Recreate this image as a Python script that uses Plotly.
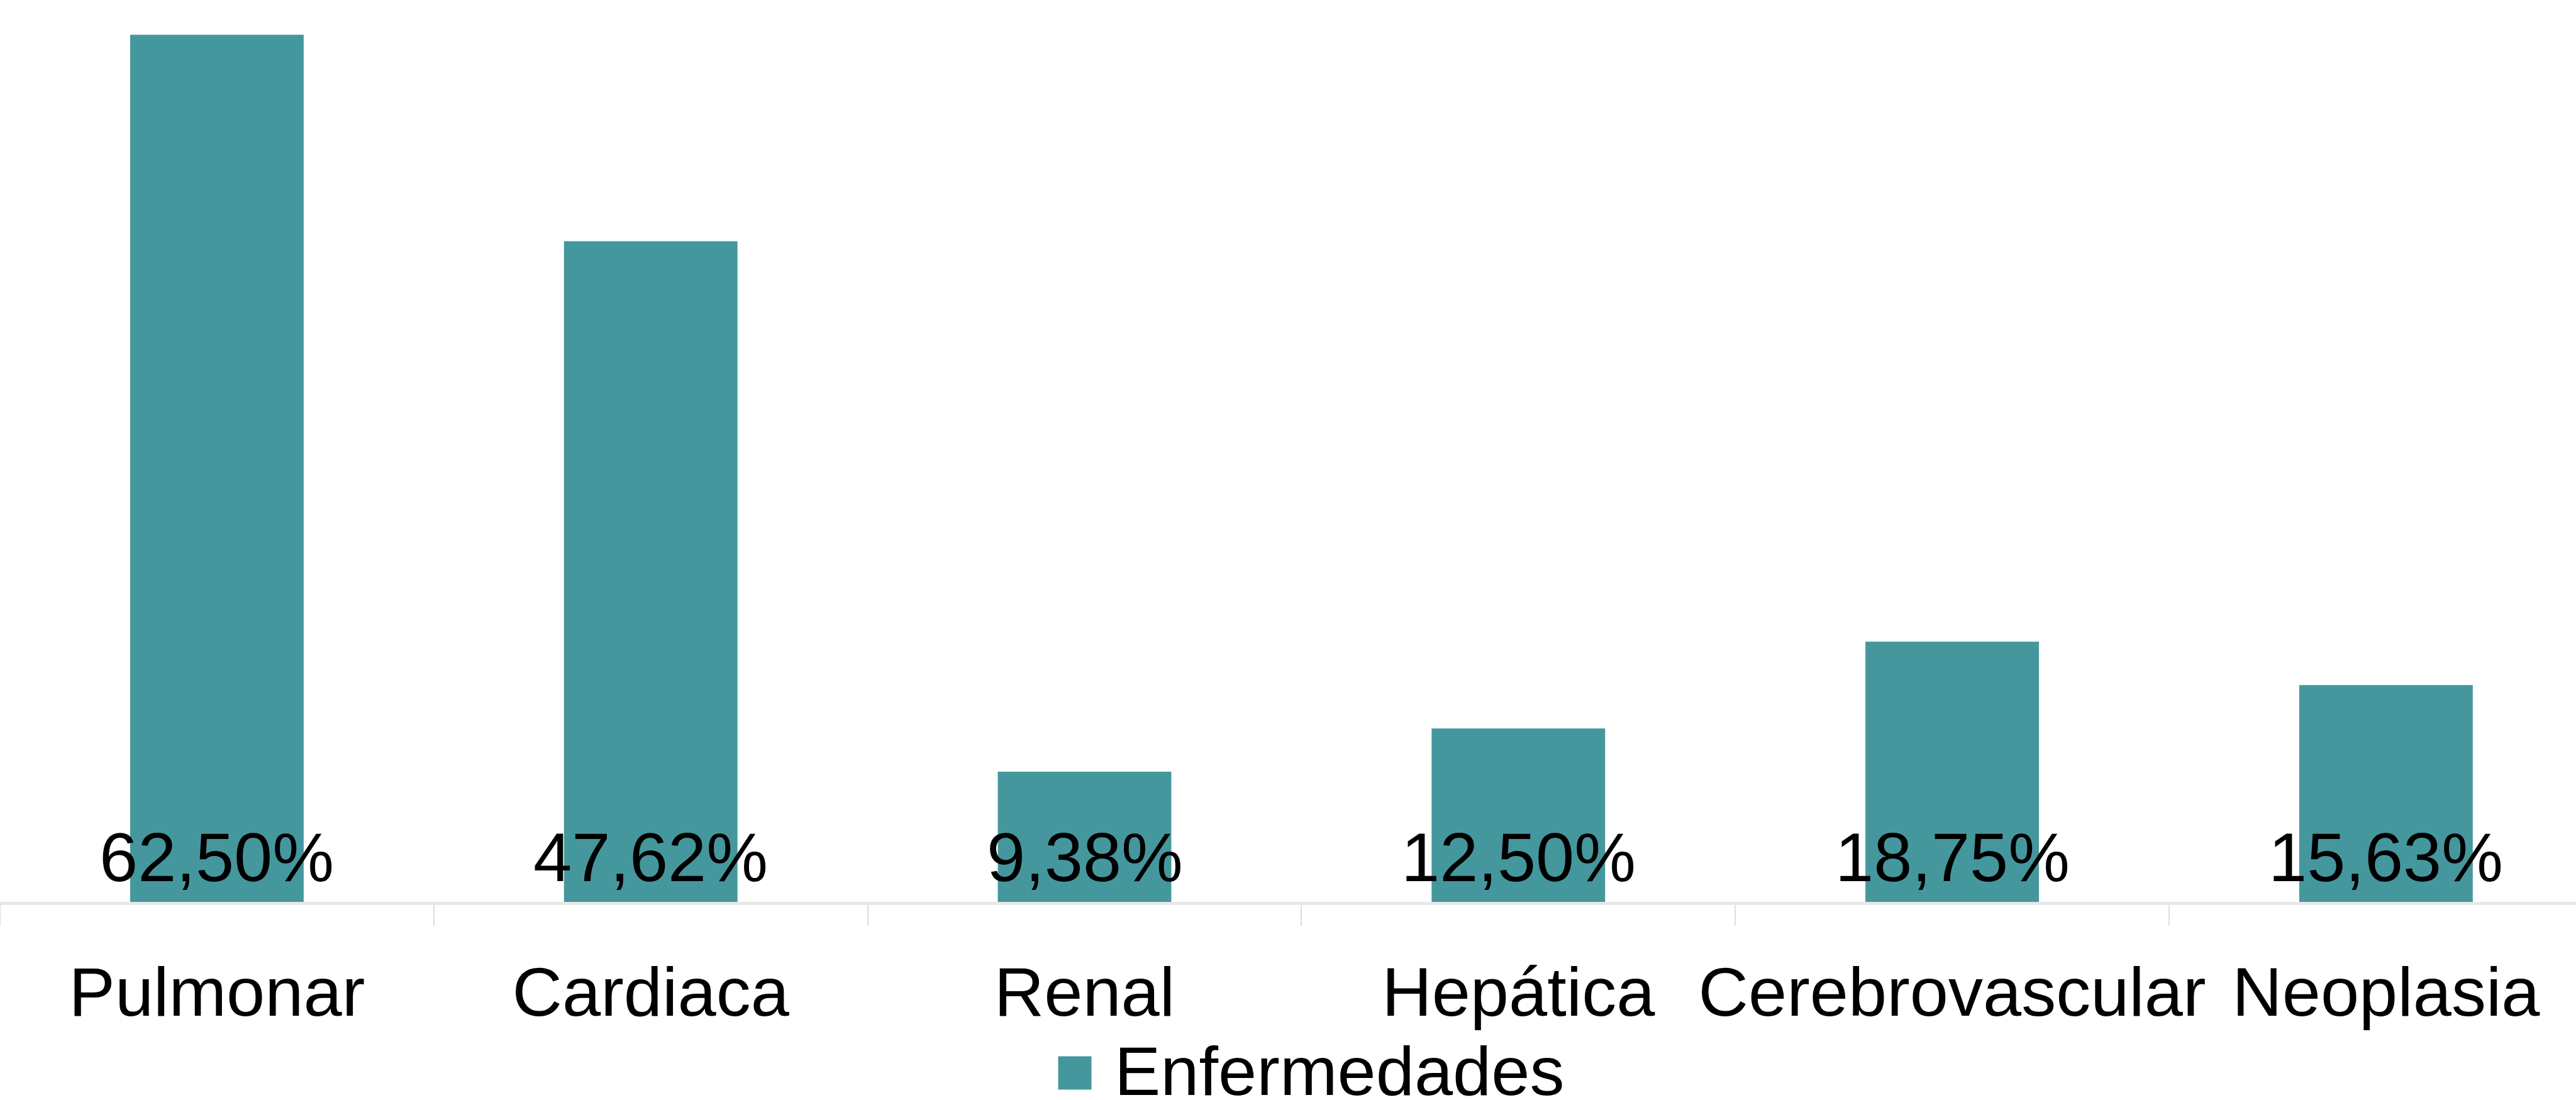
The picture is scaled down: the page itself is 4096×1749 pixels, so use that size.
import plotly.graph_objects as go

# Comorbidity shares (%)
categorias = ["Pulmonar", "Cardiaca", "Renal", "Hepática", "Cerebrovascular", "Neoplasia"]
porcentajes = [62.50, 47.62, 9.38, 12.50, 18.75, 15.63]
serie = "Enfermedades"

W, H = 4096, 1749
PLOT_BOTTOM = 1434          # pixel row of the category axis
BAR_COLOR = "#45979E"
FONT = "Liberation Sans, Arial, sans-serif"
FS = 110
CAT_W = 689.8               # pixel width of one category slot

def px_x(p):
    return p / W

def px_y(p):
    return (PLOT_BOTTOM - p) / PLOT_BOTTOM

def etiqueta(v):
    return f"{v:.2f}".replace(".", ",") + "%"

fig = go.Figure()
fig.add_trace(go.Bar(
    x=categorias,
    y=porcentajes,
    name=serie,
    marker=dict(color=BAR_COLOR, line=dict(width=0)),
    showlegend=False,
))

# value labels sitting inside the base of each bar
for c, v in zip(categorias, porcentajes):
    fig.add_annotation(
        x=c, y=0, xref="x", yref="y",
        text=etiqueta(v), showarrow=False,
        yanchor="bottom", xanchor="center", yshift=8,
        font=dict(family=FONT, size=FS, color="#000000"),
    )

# legend: swatch + series name
sw = 53
lx, ly = 1709, 1706
fig.add_shape(
    type="rect", xref="paper", yref="paper",
    x0=px_x(lx - sw / 2), x1=px_x(lx + sw / 2),
    y0=px_y(ly + sw / 2), y1=px_y(ly - sw / 2),
    fillcolor=BAR_COLOR, line=dict(width=0),
)
fig.add_annotation(
    x=px_x(1770), y=px_y(1702), xref="paper", yref="paper",
    text=serie, showarrow=False, xanchor="left", yanchor="middle",
    font=dict(family=FONT, size=FS, color="#000000"),
)

fig.update_layout(
    width=W, height=H,
    margin=dict(l=0, r=0, t=0, b=H - PLOT_BOTTOM, pad=0, autoexpand=False),
    paper_bgcolor="white", plot_bgcolor="white",
    bargap=0.60,
    font=dict(family=FONT, size=FS, color="#000000"),
    xaxis=dict(
        type="category",
        range=[-0.5, -0.5 + W / CAT_W],
        automargin=False,
        tickangle=0,
        showline=True, linecolor="#E8E8E8", linewidth=5,
        ticks="outside", tickson="boundaries", ticklen=33,
        tickcolor="#DDDDDD", tickwidth=2,
        showgrid=False, zeroline=False,
        ticklabelstandoff=44,
        tickfont=dict(family=FONT, size=FS, color="#000000"),
    ),
    yaxis=dict(
        range=[0, 65], visible=False, showgrid=False, zeroline=False,
        automargin=False,
    ),
)

fig.write_html("out.html")
